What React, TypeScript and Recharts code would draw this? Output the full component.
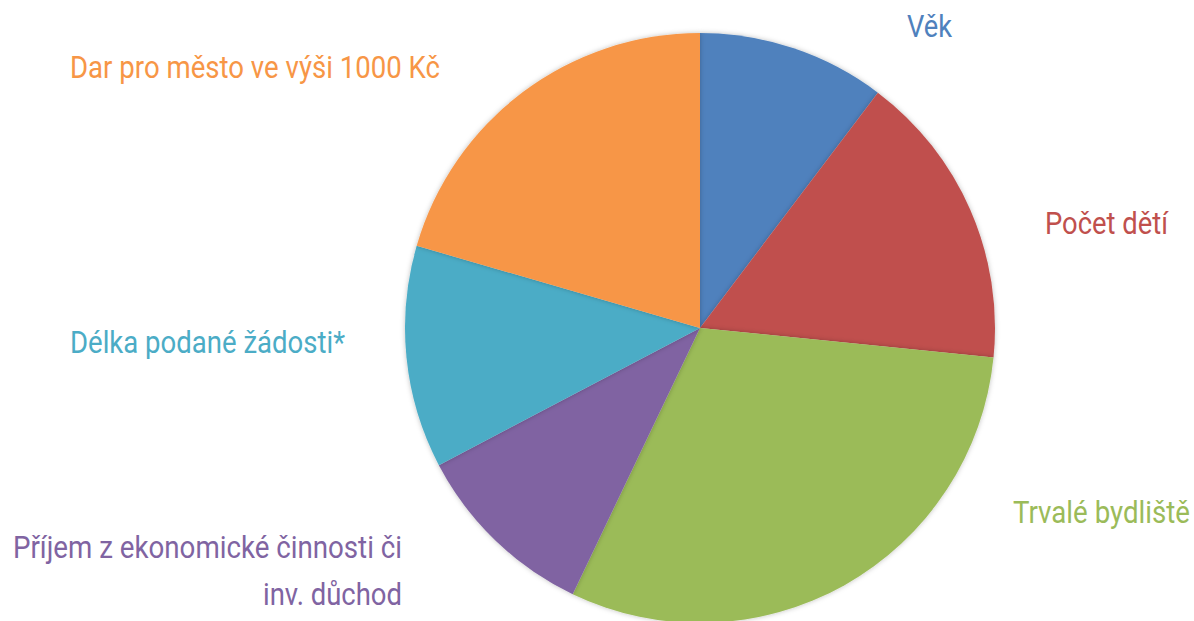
import { PieChart, Pie, Cell } from "recharts";

// share of each criterion, read clockwise from 12 o'clock
const categories = [
  "Věk",
  "Počet dětí",
  "Trvalé bydliště",
  "Příjem z ekonomické činnosti či inv. důchod",
  "Délka podané žádosti*",
  "Dar pro město ve výši 1000 Kč",
];
const values = [10.3, 16.3, 30.5, 10.2, 12.2, 20.5];
const COLORS = ["#4F81BD", "#C0504D", "#9BBB59", "#8064A2", "#4BACC6", "#F79646"];

// label lines as drawn in the picture (text only)
const labelLines = [
  ["Věk"],
  ["Počet dětí"],
  ["Trvalé bydliště"],
  ["Příjem z ekonomické činnosti či", "inv. důchod"],
  ["Délka podané žádosti*"],
  ["Dar pro město ve výši 1000 Kč"],
];

// where each label sits: right edge x, first baseline y, width of each line
const LABEL_LAYOUT = [
  { right: 952, y: 37, widths: [45] },
  { right: 1168, y: 234, widths: [123] },
  { right: 1190, y: 523, widths: [177] },
  { right: 402, y: 558, widths: [389, 139] },
  { right: 345, y: 353, widths: [275] },
  { right: 440, y: 78, widths: [370] },
];

const data = categories.map((name, i) => ({ name, value: values[i] }));

const renderLabel = (props: any) => {
  const i = props.index;
  const lay = LABEL_LAYOUT[i];
  return (
    <g key={`lbl-${i}`}>
      {labelLines[i].map((line, j) => (
        <text
          key={j}
          x={lay.right - lay.widths[j]}
          y={lay.y + j * 47}
          fill={COLORS[i]}
          fontFamily="Roboto, sans-serif"
          fontSize={31}
          textLength={lay.widths[j]}
          lengthAdjust="spacingAndGlyphs"
          textAnchor="start"
        >
          {line}
        </text>
      ))}
    </g>
  );
};

export default function App() {
  return (
    <div style={{ position: "absolute", left: 0, top: 0, width: 1194, height: 621, background: "#fff" }}>
      <PieChart width={1194} height={621} margin={{ top: 0, right: 0, bottom: 0, left: 0 }}>
        <defs>
          <filter id="softShadow" x="-10%" y="-10%" width="120%" height="120%">
            <feDropShadow dx="0" dy="0" stdDeviation="2.5" floodColor="#000" floodOpacity="0.25" />
          </filter>
        </defs>
        <Pie
          data={data}
          dataKey="value"
          nameKey="name"
          cx={700}
          cy={328}
          outerRadius={295}
          startAngle={90}
          endAngle={-270}
          stroke="none"
          label={renderLabel}
          labelLine={false}
          isAnimationActive={false}
          style={{ filter: "url(#softShadow)" }}
        >
          {data.map((entry, index) => (
            <Cell key={`cell-${index}`} fill={COLORS[index]} stroke="none" />
          ))}
        </Pie>
      </PieChart>
    </div>
  );
}
